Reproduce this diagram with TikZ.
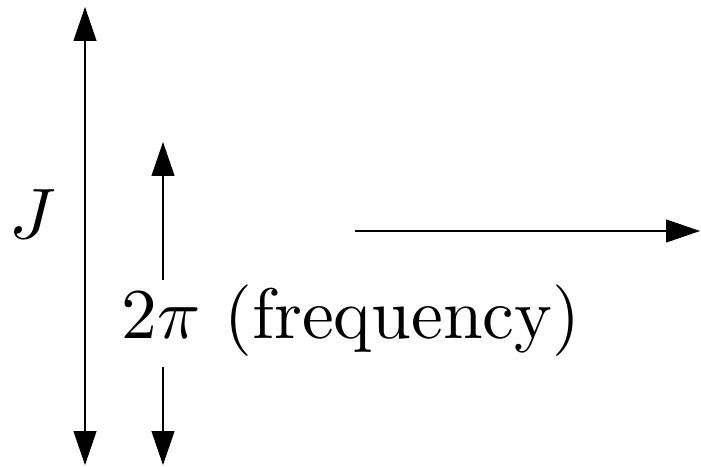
\documentclass[tikz,border=0pt]{standalone}
\usetikzlibrary{arrows.meta}
\begin{document}
\begin{tikzpicture}[x=1pt,y=1pt,
  arr/.style={line width=1.2pt,-{Triangle[length=34pt,width=23pt]}},
  darr/.style={line width=1.2pt,{Triangle[length=34pt,width=23pt]}-{Triangle[length=34pt,width=23pt]}},
  big/.style={inner sep=0pt,scale=7.15,transform shape}]
\useasboundingbox (0,0) rectangle (701,466);
% left double arrow
\coordinate (jtop) at (85,459);
\coordinate (jbot) at (85,1);
\draw[darr] (jbot) -- (jtop);
\node[big] (J) at (33,252) {$J$};
% frequency arrow
\node[big,anchor=base west] (lbl) at (120,128) {$2\pi$ (frequency)};
\coordinate (ftop) at (163,324);
\coordinate (fbot) at (163,1);
\coordinate (fgt) at (163,186);
\coordinate (fgb) at (163,99);
\draw[arr] (fgt) -- (ftop);
\draw[arr] (fgb) -- (fbot);
% horizontal arrow
\coordinate (hs) at (355,235);
\coordinate (he) at (700,235);
\draw[arr] (hs) -- (he);
\end{tikzpicture}
\end{document}
